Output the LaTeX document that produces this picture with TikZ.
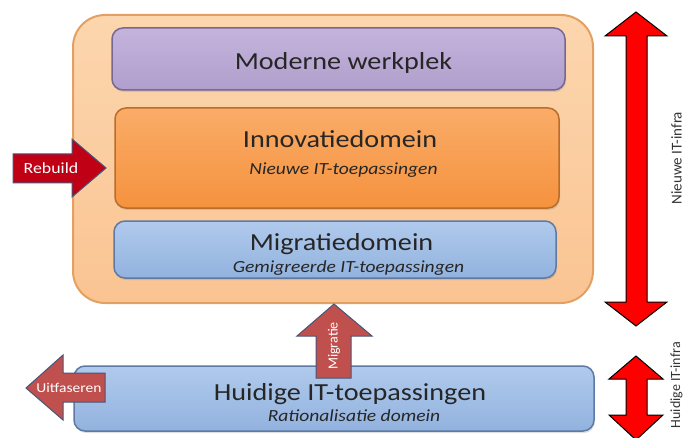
\documentclass[tikz,border=0pt]{standalone}
\usepackage{fontspec}
\setmainfont{Carlito}
\newfontfamily\widefont[FakeStretch=1.15]{Carlito}
\usetikzlibrary{positioning, calc, shadows}
\definecolor{InfraTop}{RGB}{252, 214, 174}
\definecolor{InfraBottom}{RGB}{250, 196, 146}
\definecolor{InfraEdge}{RGB}{228, 160, 98}
\definecolor{WerkTop}{RGB}{196, 180, 220}
\definecolor{WerkBottom}{RGB}{176, 158, 204}
\definecolor{WerkEdge}{RGB}{118, 104, 148}
\definecolor{InnovTop}{RGB}{250, 172, 104}
\definecolor{InnovBottom}{RGB}{245, 146, 62}
\definecolor{InnovEdge}{RGB}{186, 108, 42}
\definecolor{BlueTop}{RGB}{176, 202, 236}
\definecolor{BlueBottom}{RGB}{146, 178, 222}
\definecolor{BlueEdge}{RGB}{92, 122, 164}
\definecolor{RebuildRed}{RGB}{192, 0, 20}
\definecolor{SoftRed}{RGB}{192, 80, 77}
\definecolor{ArrowEdge}{RGB}{70, 86, 122}
\begin{document}
\begin{tikzpicture}[x=1pt, y=-1pt,
    box/.style={rounded corners=11pt, line width=1.5pt, inner sep=0pt, outer sep=0pt,
        drop shadow={opacity=0.25, shadow xshift=1pt, shadow yshift=-2pt}},
    title/.style={font=\widefont\fontsize{24.5}{28}\selectfont, text=black!85, anchor=base, inner sep=0pt},
    subtitle/.style={font=\widefont\fontsize{17}{20}\selectfont\itshape, text=black!85, anchor=base, inner sep=0pt},
    arrowlabel/.style={font=\widefont\fontsize{#1}{16}\selectfont, text=white, anchor=base, inner sep=0pt},
    infralabel/.style={font=\fontsize{#1}{18}\selectfont, rotate=90, text=black!80, inner sep=0pt}]
    \useasboundingbox (0,0) rectangle (684,438);
    % nieuwe infra
    \node[draw=InfraEdge, line width=2pt, rounded corners=32pt, inner sep=0pt,
        top color=InfraTop, bottom color=InfraBottom,
        minimum width=520pt, minimum height=288pt] (infra) at (333,159) {};
    \node[box, draw=WerkEdge, top color=WerkTop, bottom color=WerkBottom,
        minimum width=453pt, minimum height=62pt] (werkplek) at (338.5,59) {};
    \node[title] (werkplekT) at (343.5,69.5) {Moderne werkplek};
    \node[box, draw=InnovEdge, top color=InnovTop, bottom color=InnovBottom,
        minimum width=444pt, minimum height=100pt] (innov) at (337,158) {};
    \node[title] (innovT) at (340,148) {Innovatiedomein};
    \node[subtitle] (innovS) at (343.5,175) {Nieuwe IT-toepassingen};
    \node[box, draw=BlueEdge, top color=BlueTop, bottom color=BlueBottom,
        minimum width=442pt, minimum height=57pt] (migr) at (335,249.5) {};
    \node[title] (migrT) at (341.5,250) {Migratiedomein};
    \node[subtitle] (migrS) at (348.5,272) {Gemigreerde IT-toepassingen};
    % huidige infra
    \node[box, draw=BlueEdge, top color=BlueTop, bottom color=BlueBottom,
        minimum width=520pt, minimum height=65pt] (huidig) at (334,398.5) {};
    \node[title] (huidigT) at (350,400) {Huidige IT-toepassingen};
    \node[subtitle] (huidigS) at (354,421) {Rationalisatie domein};
    % blokpijlen
    \filldraw[fill=RebuildRed, draw=ArrowEdge, line width=1pt]
        (13,154) -- (72,154) -- (72,139) -- (106,168) -- (72,197) -- (72,183) -- (13,183) -- cycle;
    \node[arrowlabel=15.5] (rebuild) at (51,173.5) {Rebuild};
    \filldraw[fill=SoftRed, draw=ArrowEdge, line width=1pt]
        (26,388) -- (63,355) -- (63,373) -- (105,373) -- (105,402) -- (63,402) -- (63,420) -- cycle;
    \node[arrowlabel=13.5] (uitfaseren) at (69,392) {Uitfaseren};
    \filldraw[fill=SoftRed, draw=ArrowEdge, line width=1pt]
        (334,304) -- (372,336) -- (351,336) -- (351,378) -- (316,378) -- (316,336) -- (297,336) -- cycle;
    \node[font=\fontsize{14}{16}\selectfont, text=white, inner sep=0pt, rotate=90] (migratie) at (334,346) {Migratie};
    % infra pijlen
    \filldraw[fill=red, draw=black, line width=1pt]
        (636,12) -- (667,36) -- (647,36) -- (647,302) -- (667,302) -- (636,326)
        -- (605,302) -- (626,302) -- (626,36) -- (605,36) -- cycle;
    \filldraw[fill=red, draw=black, line width=1pt]
        (636,356) -- (663,379) -- (647,379) -- (647,415) -- (663,415) -- (636,440)
        -- (609,415) -- (626,415) -- (626,379) -- (609,379) -- cycle;
    \node[infralabel=15] (nieuweInfra) at (676.5,158) {Nieuwe IT-infra};
    \node[infralabel=14, anchor=east] (huidigeInfra) at (676.5,342) {Huidige IT-infra};
\end{tikzpicture}
\end{document}
